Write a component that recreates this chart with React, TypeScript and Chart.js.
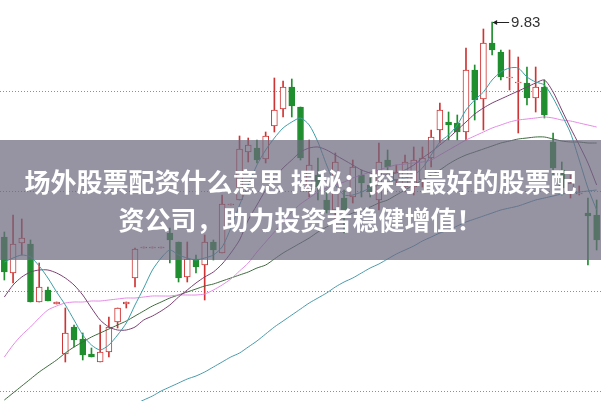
import { useEffect, useRef } from 'react';
import { Chart, registerables } from 'chart.js';

Chart.register(...registerables);

// Candles (price units)
const OPEN = [8.755, 8.575, 8.725, 8.72, 8.43, 8.49, 8.42, 8.17, 8.305, 8.245, 8.17, 8.13, 8.18, 8.33, 8.42, 8.55, 8.70, 8.70, 8.70, 8.775, 8.73, 8.555, 8.645, 8.615, 8.73, 8.675, 8.915, 8.94, 9.18, 9.20, 9.145, 9.31, 9.395, 9.505, 9.405, 8.99, 9.065, 8.94, 8.89, 8.95, 8.955, 9.065, 9.015, 8.94, 9.14, 9.04, 9.005, 9.005, 9.04, 9.15, 9.29, 9.33, 9.325, 9.28, 9.59, 9.445, 9.725, 9.68, 9.55, 9.525, 9.525, 9.45, 9.505, 9.23, 9.09, 8.98, 8.97, 8.875, 8.865];
const HIGH = [8.78, 8.865, 8.845, 8.74, 8.625, 8.505, 8.43, 8.40, 8.315, 8.275, 8.20, 8.315, 8.355, 8.40, 8.43, 8.70, 8.705, 8.705, 8.705, 8.80, 8.73, 8.73, 8.665, 8.765, 8.74, 8.965, 8.92, 9.26, 9.25, 9.24, 9.28, 9.55, 9.535, 9.545, 9.405, 9.24, 9.15, 8.99, 9.175, 8.99, 9.14, 9.09, 9.05, 9.225, 9.19, 9.115, 9.165, 9.205, 9.205, 9.29, 9.425, 9.38, 9.365, 9.70, 9.615, 9.795, 9.83, 9.69, 9.69, 9.655, 9.605, 9.605, 9.54, 9.275, 9.13, 9.065, 9.01, 8.95, 8.94];
const LOW = [8.54, 8.525, 8.665, 8.43, 8.43, 8.435, 8.42, 8.13, 8.205, 8.14, 8.155, 8.13, 8.155, 8.30, 8.40, 8.505, 8.70, 8.70, 8.70, 8.625, 8.53, 8.53, 8.575, 8.44, 8.64, 8.675, 8.915, 8.94, 9.13, 9.125, 9.125, 9.28, 9.355, 9.355, 9.14, 8.955, 8.94, 8.875, 8.805, 8.775, 8.925, 8.955, 8.955, 8.89, 9.075, 9.015, 8.98, 8.965, 9.005, 9.105, 9.225, 9.24, 9.24, 9.24, 9.34, 9.29, 9.665, 9.54, 9.49, 9.275, 9.415, 9.38, 9.35, 9.065, 8.965, 8.95, 8.965, 8.615, 8.69];
const CLOSE = [8.58, 8.72, 8.75, 8.43, 8.505, 8.435, 8.43, 8.275, 8.24, 8.165, 8.155, 8.18, 8.305, 8.40, 8.43, 8.695, 8.705, 8.705, 8.705, 8.74, 8.55, 8.645, 8.605, 8.73, 8.69, 8.92, 8.92, 9.195, 9.215, 9.14, 9.26, 9.39, 9.505, 9.41, 9.15, 9.115, 9.005, 8.89, 9.13, 8.89, 9.105, 9.025, 8.98, 9.13, 9.105, 9.08, 9.13, 9.14, 9.15, 9.255, 9.39, 9.315, 9.28, 9.59, 9.44, 9.725, 9.69, 9.555, 9.555, 9.53, 9.45, 9.505, 9.365, 9.10, 9.00, 9.025, 8.975, 8.86, 8.74];

// Moving averages
const MA5 = [8.63, 8.65, 8.665, 8.655, 8.61, 8.55, 8.48, 8.415, 8.34, 8.265, 8.215, 8.19, 8.215, 8.265, 8.325, 8.415, 8.50, 8.59, 8.65, 8.69, 8.665, 8.65, 8.64, 8.65, 8.665, 8.705, 8.80, 8.915, 9.015, 9.115, 9.19, 9.25, 9.30, 9.33, 9.35, 9.315, 9.23, 9.115, 9.015, 8.965, 8.965, 8.98, 9.00, 9.015, 9.03, 9.04, 9.05, 9.065, 9.10, 9.165, 9.23, 9.265, 9.315, 9.39, 9.44, 9.48, 9.54, 9.58, 9.60, 9.60, 9.555, 9.53, 9.515, 9.45, 9.365, 9.275, 9.14, 9.00, 8.89];
const MA10 = [8.455, 8.515, 8.555, 8.58, 8.59, 8.59, 8.575, 8.55, 8.515, 8.465, 8.40, 8.34, 8.305, 8.29, 8.29, 8.305, 8.34, 8.36, 8.385, 8.415, 8.455, 8.49, 8.525, 8.555, 8.58, 8.62, 8.675, 8.74, 8.84, 8.915, 8.99, 9.05, 9.10, 9.14, 9.18, 9.20, 9.205, 9.19, 9.165, 9.14, 9.115, 9.09, 9.075, 9.065, 9.065, 9.075, 9.09, 9.115, 9.15, 9.18, 9.215, 9.25, 9.29, 9.33, 9.37, 9.40, 9.425, 9.445, 9.465, 9.485, 9.505, 9.525, 9.54, 9.48, 9.39, 9.30, 9.215, 9.125, 9.015];
const MA20 = [8.155, 8.215, 8.265, 8.305, 8.35, 8.39, 8.41, 8.425, 8.43, 8.43, 8.435, 8.435, 8.44, 8.445, 8.45, 8.45, 8.455, 8.46, 8.46, 8.46, 8.465, 8.465, 8.465, 8.47, 8.49, 8.515, 8.545, 8.585, 8.625, 8.68, 8.73, 8.78, 8.83, 8.88, 8.92, 8.95, 8.98, 9.00, 9.015, 9.03, 9.05, 9.065, 9.08, 9.09, 9.105, 9.115, 9.12, 9.125, 9.13, 9.14, 9.165, 9.19, 9.215, 9.24, 9.26, 9.28, 9.30, 9.315, 9.33, 9.34, 9.345, 9.35, 9.355, 9.35, 9.34, 9.335, 9.325, 9.315, 9.305];
const MA30 = [7.94, 7.975, 8.01, 8.045, 8.08, 8.11, 8.14, 8.175, 8.205, 8.23, 8.255, 8.275, 8.295, 8.315, 8.335, 8.36, 8.385, 8.41, 8.43, 8.45, 8.465, 8.48, 8.495, 8.51, 8.52, 8.535, 8.55, 8.565, 8.58, 8.60, 8.615, 8.645, 8.675, 8.70, 8.725, 8.75, 8.78, 8.805, 8.83, 8.855, 8.875, 8.89, 8.905, 8.925, 8.94, 8.965, 8.99, 9.015, 9.04, 9.065, 9.09, 9.12, 9.145, 9.165, 9.18, 9.195, 9.21, 9.225, 9.235, 9.245, 9.25, 9.255, 9.255, 9.245, 9.235, 9.23, 9.23, 9.225, 9.225];
const MA60 = [null, null, null, null, null, null, null, null, null, null, null, null, null, null, null, 7.92, 7.94, 7.96, 7.985, 8.005, 8.025, 8.045, 8.06, 8.08, 8.105, 8.13, 8.155, 8.175, 8.205, 8.235, 8.27, 8.305, 8.335, 8.365, 8.395, 8.425, 8.45, 8.475, 8.505, 8.53, 8.55, 8.575, 8.60, 8.62, 8.645, 8.67, 8.69, 8.71, 8.735, 8.755, 8.775, 8.79, 8.81, 8.83, 8.845, 8.86, 8.875, 8.89, 8.90, 8.91, 8.925, 8.94, 8.95, 8.96, 8.97, 8.975, 8.98, 8.985, 8.99];

const GRID_LEVELS = [9.48, 8.98, 8.48, 7.98];
const LABELS = OPEN.map((_, i) => String(i + 1));
const TITLE_LINES = ['场外股票配资什么意思 揭秘：探寻最好的股票配', '资公司，助力投资者稳健增值！'];

const RED = '#cf3434';
const GREEN = '#1f8e2e';

const highMarker = {
  id: 'highMarker',
  afterDatasetsDraw(chart: any) {
    const { ctx, scales } = chart;
    const x = scales.x;
    const y = scales.y;
    let idx = 0;
    HIGH.forEach((h, i) => {
      if (h > HIGH[idx]) idx = i;
    });
    const px = x.getPixelForValue(idx);
    const py = Math.round(y.getPixelForValue(HIGH[idx])) + 0.5;
    ctx.save();
    ctx.strokeStyle = '#222';
    ctx.fillStyle = '#222';
    ctx.lineWidth = 1;
    ctx.beginPath();
    ctx.moveTo(px + 1, py);
    ctx.lineTo(px + 17, py);
    ctx.stroke();
    ctx.beginPath();
    ctx.moveTo(px + 0.5, py);
    ctx.lineTo(px + 5, py - 2.5);
    ctx.lineTo(px + 5, py + 2.5);
    ctx.closePath();
    ctx.fill();
    ctx.font = '15px "Liberation Sans", Arial, sans-serif';
    ctx.textBaseline = 'middle';
    ctx.textAlign = 'left';
    ctx.fillStyle = '#333';
    ctx.fillText(HIGH[idx].toFixed(2), px + 19, py);
    ctx.restore();
  },
};

function lineDs(label: string, data: (number | null)[], color: string) {
  return {
    type: 'line' as const,
    label,
    data,
    borderColor: color,
    borderWidth: 1,
    pointRadius: 0,
    fill: false,
    tension: 0.25,
    order: 0,
  };
}

export default function App() {
  const ref = useRef<HTMLCanvasElement | null>(null);

  useEffect(() => {
    if (!ref.current) return;
    const up = OPEN.map((o, i) => CLOSE[i] >= o);
    const chart = new Chart(ref.current, {
      type: 'bar',
      data: {
        labels: LABELS,
        datasets: [
          lineDs('MA5', MA5, '#3d9ea6'),
          lineDs('MA10', MA10, '#7b3f72'),
          lineDs('MA20', MA20, '#e58ae6'),
          lineDs('MA30', MA30, '#3d6b3d'),
          lineDs('MA60', MA60, '#4a9aab'),
          {
            type: 'bar',
            label: 'body',
            data: OPEN.map((o, i) => [o, CLOSE[i]]),
            backgroundColor: up.map((u) => (u ? '#ffffff' : GREEN)),
            borderColor: up.map((u) => (u ? RED : GREEN)),
            borderWidth: 1,
            borderSkipped: false,
            barThickness: 6,
            minBarLength: 1,
            grouped: false,
            order: 1,
          } as any,
          {
            type: 'bar',
            label: 'wick',
            data: LOW.map((l, i) => [l, HIGH[i]]),
            backgroundColor: up.map((u) => (u ? RED : GREEN)),
            borderWidth: 0,
            barThickness: 1,
            grouped: false,
            order: 2,
          } as any,
        ],
      },
      options: {
        responsive: false,
        maintainAspectRatio: false,
        animation: false,
        events: [],
        layout: { padding: 0 },
        plugins: {
          legend: { display: false },
          tooltip: { enabled: false },
        },
        scales: {
          x: {
            display: false,
            offset: true,
            grid: { display: false },
          },
          y: {
            min: 7.935,
            max: 9.94,
            afterBuildTicks: (s: any) => {
              s.ticks = GRID_LEVELS.map((v) => ({ value: v }));
            },
            afterFit: (s: any) => {
              s.width = 0;
            },
            ticks: { display: false },
            grid: { color: '#8f8f8f', lineWidth: 1, drawTicks: false },
            border: { display: false, dash: [1, 2] },
          },
        },
      } as any,
      plugins: [highMarker],
    });
    return () => chart.destroy();
  }, []);

  return (
    <div
      style={{
        position: 'absolute',
        left: 0,
        top: 0,
        width: 601,
        height: 401,
        background: '#ffffff',
        overflow: 'hidden',
      }}
    >
      <canvas ref={ref} width={601} height={401} style={{ display: 'block' }} />
      <div
        style={{
          position: 'absolute',
          left: 0,
          top: 140,
          width: 601,
          height: 120,
          background: 'rgba(110,106,128,0.72)',
          display: 'flex',
          flexDirection: 'column',
          justifyContent: 'center',
          alignItems: 'center',
          color: '#ffffff',
          fontFamily: '"Noto Sans CJK SC", "Noto Sans", sans-serif',
          fontWeight: 700,
          fontSize: 26,
          lineHeight: '38px',
          whiteSpace: 'nowrap',
        }}
      >
        {TITLE_LINES.map((t) => (
          <div key={t}>{t}</div>
        ))}
      </div>
    </div>
  );
}
